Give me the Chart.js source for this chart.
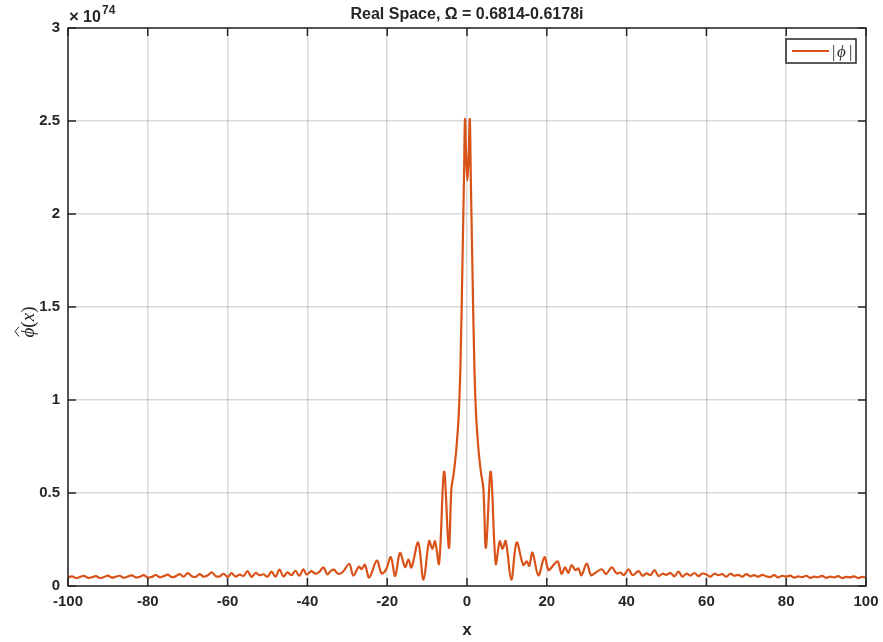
<!DOCTYPE html>
<html>
<head>
<meta charset="utf-8">
<script src="https://cdn.jsdelivr.net/npm/chart.js@4/dist/chart.umd.min.js"></script>
<style>
  html, body { margin: 0; padding: 0; background: #fff; }
  canvas { display: block; }
</style>
</head>
<body>
<canvas id="realSpaceChart" width="883" height="642"></canvas>
<script>
// |phi(x)| in units of 1e74
const xVals = [
  -100, -99, -98, -97, -96, -95, -94, -93, -92, -91, -90, -89, -88, -87, -86, -85, -84, -83, -82, -81,
  -80, -79, -78, -77, -76, -75, -74, -73, -72, -71, -70, -69, -68, -67, -66, -65, -64, -63, -62, -61,
  -60, -59, -58, -57, -56, -55, -54, -53, -52, -51, -50, -49, -48, -47, -46, -45, -44, -43, -42,
  -41, -40.2, -39, -38, -37, -36, -35, -34.2, -33.4, -32.3, -31.2, -29.5, -28.5, -27.1, -26.4, -25.6,
  -24.5, -22.6, -21.4, -20.3, -19.1, -18, -16.8, -15.5, -14.7, -13.9, -12.25, -10.9, -9.5, -8.7, -8.0,
  -7.0, -5.75, -4.55, -3.9, -3.3, -2.7, -2.1, -1.65, -1.15, -0.75, -0.5, -0.2, 0.1, 0.4, 0.7, 0.95,
  1.35, 1.85, 2.3, 2.9, 3.5, 4.1, 4.75, 5.95, 7.2, 8.2, 8.9, 9.7, 11.1, 12.45, 14.1, 15.0, 15.6, 16.4,
  17.9, 19.4, 20.4, 21.2, 22.7, 23.7, 24.6, 25.4, 26.2, 27.2, 27.9, 28.7, 30, 31.1, 32.1, 33.8, 34.8,
  36.3, 37.5, 38.5, 39.3, 40.5, 41.5,
  43, 44, 45, 46, 47, 48, 49, 50, 51, 52, 53, 54, 55, 56, 57, 58, 59, 60, 61, 62, 63, 64, 65, 66, 67,
  68, 69, 70, 71, 72, 73, 74, 75, 76, 77, 78, 79, 80, 81, 82, 83, 84, 85, 86, 87, 88, 89, 90, 91, 92,
  93, 94, 95, 96, 97, 98, 99, 100
];
const phiAbs = [
  0.046, 0.052, 0.043, 0.049, 0.054, 0.044, 0.047, 0.053, 0.043, 0.048, 0.056, 0.045, 0.050, 0.055, 0.044, 0.051, 0.057, 0.046, 0.050, 0.058,
  0.045, 0.049, 0.059, 0.047, 0.053, 0.061, 0.048, 0.052, 0.064, 0.050, 0.069, 0.053, 0.049, 0.064, 0.050, 0.057, 0.073, 0.054, 0.051, 0.066,
  0.049, 0.069, 0.050, 0.061, 0.054, 0.080, 0.049, 0.070, 0.058, 0.063, 0.050, 0.077, 0.050, 0.088, 0.051, 0.073, 0.058, 0.082, 0.055,
  0.090, 0.062, 0.080, 0.066, 0.076, 0.100, 0.062, 0.080, 0.088, 0.066, 0.074, 0.118, 0.056, 0.104, 0.090, 0.114,
  0.046, 0.137, 0.068, 0.088, 0.155, 0.054, 0.178, 0.102, 0.142, 0.100, 0.234, 0.034, 0.242, 0.200, 0.240,
  0.120, 0.615, 0.205, 0.525, 0.610, 0.730, 0.910, 1.180, 1.720, 2.200, 2.510, 2.300, 2.180, 2.300, 2.510, 2.200,
  1.720, 1.180, 0.910, 0.730, 0.610, 0.525, 0.205, 0.615, 0.120, 0.240, 0.200, 0.242, 0.034, 0.234, 0.113, 0.132, 0.108, 0.180,
  0.057, 0.155, 0.086, 0.100, 0.132, 0.066, 0.100, 0.070, 0.112, 0.085, 0.095, 0.058, 0.120, 0.058, 0.070, 0.090, 0.064,
  0.100, 0.068, 0.072, 0.058, 0.090, 0.058,
  0.080, 0.055, 0.068, 0.058, 0.085, 0.054, 0.066, 0.060, 0.070, 0.052, 0.078, 0.050, 0.066, 0.056, 0.070, 0.053, 0.067, 0.062, 0.050, 0.066, 0.058, 0.064, 0.050, 0.066, 0.055,
  0.060, 0.050, 0.064, 0.052, 0.058, 0.050, 0.060, 0.052, 0.048, 0.058, 0.046, 0.055, 0.050, 0.056, 0.045, 0.052, 0.048, 0.055, 0.044, 0.050, 0.047, 0.054, 0.044, 0.050, 0.046,
  0.053, 0.043, 0.049, 0.046, 0.052, 0.043, 0.049, 0.045
];
const xTicks = [-100, -80, -60, -40, -20, 0, 20, 40, 60, 80, 100];
const yTicks = [0, 0.5, 1, 1.5, 2, 2.5, 3];

const titleText = 'Real Space, \u03A9 = 0.6814-0.6178i';
const lineColor = '#D95319';
const axisColor = '#262626';
const fontFamily = '"Liberation Sans", Arial, sans-serif';
const serifFamily = '"Liberation Serif", "DejaVu Serif", serif';

// frame, inward ticks, title, exponent, axis titles and legend, MATLAB-like
const matlabDecor = {
  id: 'matlabDecor',
  afterDraw(chart) {
    const ctx = chart.ctx;
    const a = chart.chartArea;
    const xs = chart.scales.x;
    const ys = chart.scales.y;
    const tickLen = 8;
    ctx.save();

    ctx.strokeStyle = axisColor;
    ctx.lineWidth = 1.5;
    ctx.strokeRect(a.left, a.top, a.right - a.left, a.bottom - a.top);

    ctx.beginPath();
    xTicks.forEach(v => {
      const px = xs.getPixelForValue(v);
      ctx.moveTo(px, a.bottom); ctx.lineTo(px, a.bottom - tickLen);
      ctx.moveTo(px, a.top); ctx.lineTo(px, a.top + tickLen);
    });
    yTicks.forEach(v => {
      const py = ys.getPixelForValue(v);
      ctx.moveTo(a.left, py); ctx.lineTo(a.left + tickLen, py);
      ctx.moveTo(a.right, py); ctx.lineTo(a.right - tickLen, py);
    });
    ctx.stroke();

    ctx.fillStyle = axisColor;
    ctx.font = 'bold 16px ' + fontFamily;
    ctx.textAlign = 'center';
    ctx.textBaseline = 'alphabetic';
    ctx.fillText(titleText, (a.left + a.right) / 2, 19);

    // x10^74
    ctx.textAlign = 'left';
    ctx.font = 'bold 17px ' + fontFamily;
    ctx.fillText('\u00D7', 69, 22);
    ctx.font = 'bold 16px ' + fontFamily;
    ctx.fillText('10', 83, 22);
    ctx.font = 'bold 12px ' + fontFamily;
    ctx.fillText('74', 102, 14);

    // x axis title
    ctx.textAlign = 'center';
    ctx.font = 'bold 17px ' + fontFamily;
    ctx.fillText('x', (a.left + a.right) / 2, 635);

    // y axis title: hat(phi)(x)
    ctx.save();
    ctx.translate(34, 322);
    ctx.rotate(-Math.PI / 2);
    ctx.textAlign = 'left';
    const fPhi = 'italic 19px ' + serifFamily;
    const fUp = '19px ' + serifFamily;
    ctx.font = fPhi;
    const wPhi = ctx.measureText('\u03D5').width;
    ctx.font = fUp;
    const wL = ctx.measureText('(').width;
    const wR = ctx.measureText(')').width;
    ctx.font = fPhi;
    const wX = ctx.measureText('x').width;
    let cx = -(wPhi + wL + wX + wR) / 2;
    ctx.font = fPhi;
    ctx.fillText('\u03D5', cx, 0);
    // hat over phi
    ctx.strokeStyle = axisColor;
    ctx.lineWidth = 1;
    ctx.beginPath();
    ctx.moveTo(cx + 1, -15);
    ctx.lineTo(cx + wPhi / 2 + 1, -19);
    ctx.lineTo(cx + wPhi + 1, -15);
    ctx.stroke();
    cx += wPhi;
    ctx.font = fUp;
    ctx.fillText('(', cx, 0);
    cx += wL;
    ctx.font = fPhi;
    ctx.fillText('x', cx, 0);
    cx += wX;
    ctx.font = fUp;
    ctx.fillText(')', cx, 0);
    ctx.restore();

    // legend box inside upper right
    const lx = 786, ly = 39, lw = 70, lh = 24;
    ctx.fillStyle = '#fff';
    ctx.fillRect(lx, ly, lw, lh);
    ctx.strokeStyle = axisColor;
    ctx.lineWidth = 1.5;
    ctx.strokeRect(lx, ly, lw, lh);
    ctx.strokeStyle = lineColor;
    ctx.lineWidth = 2.2;
    ctx.beginPath();
    ctx.moveTo(792, ly + lh / 2);
    ctx.lineTo(829, ly + lh / 2);
    ctx.stroke();
    ctx.fillStyle = axisColor;
    ctx.textAlign = 'left';
    ctx.font = '17px ' + serifFamily;
    ctx.fillText('|', 832, ly + 18);
    ctx.font = 'italic 17px ' + serifFamily;
    ctx.fillText('\u03D5', 837, ly + 18);
    ctx.font = '17px ' + serifFamily;
    ctx.fillText('|', 849, ly + 18);

    ctx.restore();
  }
};

const points = xVals.map((x, i) => ({ x: x, y: phiAbs[i] }));

new Chart(document.getElementById('realSpaceChart').getContext('2d'), {
  type: 'line',
  data: {
    datasets: [{
      label: '|\u03D5|',
      data: points,
      borderColor: lineColor,
      borderWidth: 2.2,
      pointRadius: 0,
      fill: false,
      tension: 0.35
    }]
  },
  options: {
    responsive: false,
    animation: false,
    layout: { padding: { left: 0, top: 28, right: 17, bottom: 0 } },
    plugins: {
      legend: { display: false },
      title: { display: false },
      tooltip: { enabled: false }
    },
    scales: {
      x: {
        type: 'linear',
        min: -100,
        max: 100,
        afterBuildTicks: s => { s.ticks = xTicks.map(v => ({ value: v })); },
        afterFit: s => { s.height = 56; s.paddingLeft = 0; s.paddingRight = 0; },
        ticks: {
          color: axisColor,
          font: { family: fontFamily, size: 15, weight: 'bold' },
          padding: 7,
          maxRotation: 0
        },
        grid: { color: 'rgba(0,0,0,0.15)', lineWidth: 1.5, drawTicks: false },
        border: { display: false }
      },
      y: {
        min: 0,
        max: 3,
        afterBuildTicks: s => { s.ticks = yTicks.map(v => ({ value: v })); },
        afterFit: s => { s.width = 68; s.paddingTop = 0; s.paddingBottom = 0; },
        ticks: {
          color: axisColor,
          font: { family: fontFamily, size: 15, weight: 'bold' },
          padding: 8,
          callback: v => String(v)
        },
        grid: { color: 'rgba(0,0,0,0.15)', lineWidth: 1.5, drawTicks: false },
        border: { display: false }
      }
    }
  },
  plugins: [matlabDecor]
});
</script>
</body>
</html>
